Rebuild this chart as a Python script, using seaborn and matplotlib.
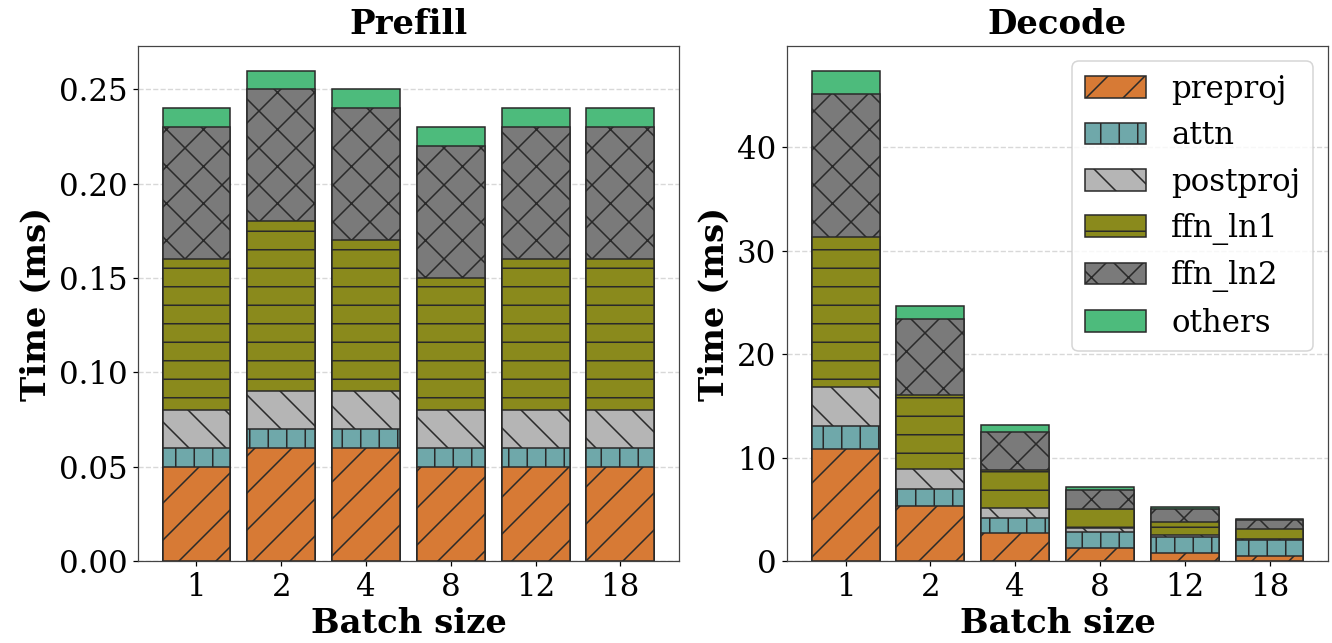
import matplotlib
matplotlib.use("Agg")
import matplotlib.pyplot as plt
from matplotlib.patches import Patch
import seaborn as sns
import numpy as np

batch_sizes = ["1", "2", "4", "8", "12", "18"]
components = ["preproj", "attn", "postproj", "ffn_ln1", "ffn_ln2", "others"]

# Prefill times (ms), one list per component
prefill_preproj = [0.05, 0.06, 0.06, 0.05, 0.05, 0.05]
prefill_attn = [0.01, 0.01, 0.01, 0.01, 0.01, 0.01]
prefill_postproj = [0.02, 0.02, 0.02, 0.02, 0.02, 0.02]
prefill_ffn_ln1 = [0.08, 0.09, 0.08, 0.07, 0.08, 0.08]
prefill_ffn_ln2 = [0.07, 0.07, 0.07, 0.07, 0.07, 0.07]
prefill_others = [0.01, 0.01, 0.01, 0.01, 0.01, 0.01]

# Decode times (ms)
decode_preproj = [10.8, 5.3, 2.7, 1.3, 0.8, 0.5]
decode_attn = [2.2, 1.7, 1.5, 1.5, 1.5, 1.5]
decode_postproj = [3.85, 1.9, 0.95, 0.35, 0.25, 0.15]
decode_ffn_ln1 = [14.45, 7.15, 3.65, 1.9, 1.2, 0.9]
decode_ffn_ln2 = [13.85, 7.35, 3.7, 1.85, 1.3, 0.9]
decode_others = [2.25, 1.2, 0.6, 0.3, 0.2, 0.1]

prefill = [prefill_preproj, prefill_attn, prefill_postproj,
           prefill_ffn_ln1, prefill_ffn_ln2, prefill_others]
decode = [decode_preproj, decode_attn, decode_postproj,
          decode_ffn_ln1, decode_ffn_ln2, decode_others]

colors = ["#D77A35", "#6FA8AA", "#B5B5B5", "#8A8A1C", "#7A7A7A", "#4DBB7C"]
hatches = ["/", "|", "\\", "-", "x", ""]
edge = "#2a2a2a"

sns.set_style("ticks")
plt.rcParams["font.family"] = "DejaVu Serif"
plt.rcParams["font.size"] = 20
for key in ["text.color", "axes.labelcolor", "xtick.color", "ytick.color"]:
    plt.rcParams[key] = "black"

fig, axes = plt.subplots(1, 2, figsize=(1332 / 111, 643 / 111), dpi=111)
fig.subplots_adjust(left=0.1036, right=0.997, bottom=0.1275, top=0.9285, wspace=0.2)


def stacked(ax, layers, title):
    cum = np.cumsum(np.array(layers), axis=0)
    # draw from the top layer down so each lower segment covers the one above
    for i in range(len(components) - 1, -1, -1):
        sns.barplot(x=batch_sizes, y=cum[i], ax=ax, color=colors[i], saturation=1,
                    edgecolor=edge, linewidth=1, hatch=hatches[i],
                    errorbar=None, width=0.8, order=batch_sizes)
    ax.set_xlim(-0.69, 5.69)
    ax.set_ylim(0, cum[-1].max() * 1.05)
    ax.grid(axis="y", linestyle="--", color="#cfcfcf", linewidth=0.9, alpha=0.8)
    ax.set_title(title, fontsize=22, fontweight="bold", pad=8)
    ax.set_xlabel("Batch size", fontsize=22, fontweight="bold", labelpad=3)
    ax.set_ylabel("Time (ms)", fontsize=22, fontweight="bold")
    ax.tick_params(labelsize=20)
    for s in ax.spines.values():
        s.set_visible(True)
        s.set_color("#444444")


stacked(axes[0], prefill, "Prefill")
stacked(axes[1], decode, "Decode")
axes[0].yaxis.set_major_formatter(matplotlib.ticker.FormatStrFormatter("%.2f"))

handles = [Patch(facecolor=colors[i], edgecolor=edge, hatch=hatches[i], label=components[i])
           for i in range(len(components))]
axes[1].legend(handles=handles, loc="upper right", fontsize=20)

fig.savefig("out.png", dpi=111)
